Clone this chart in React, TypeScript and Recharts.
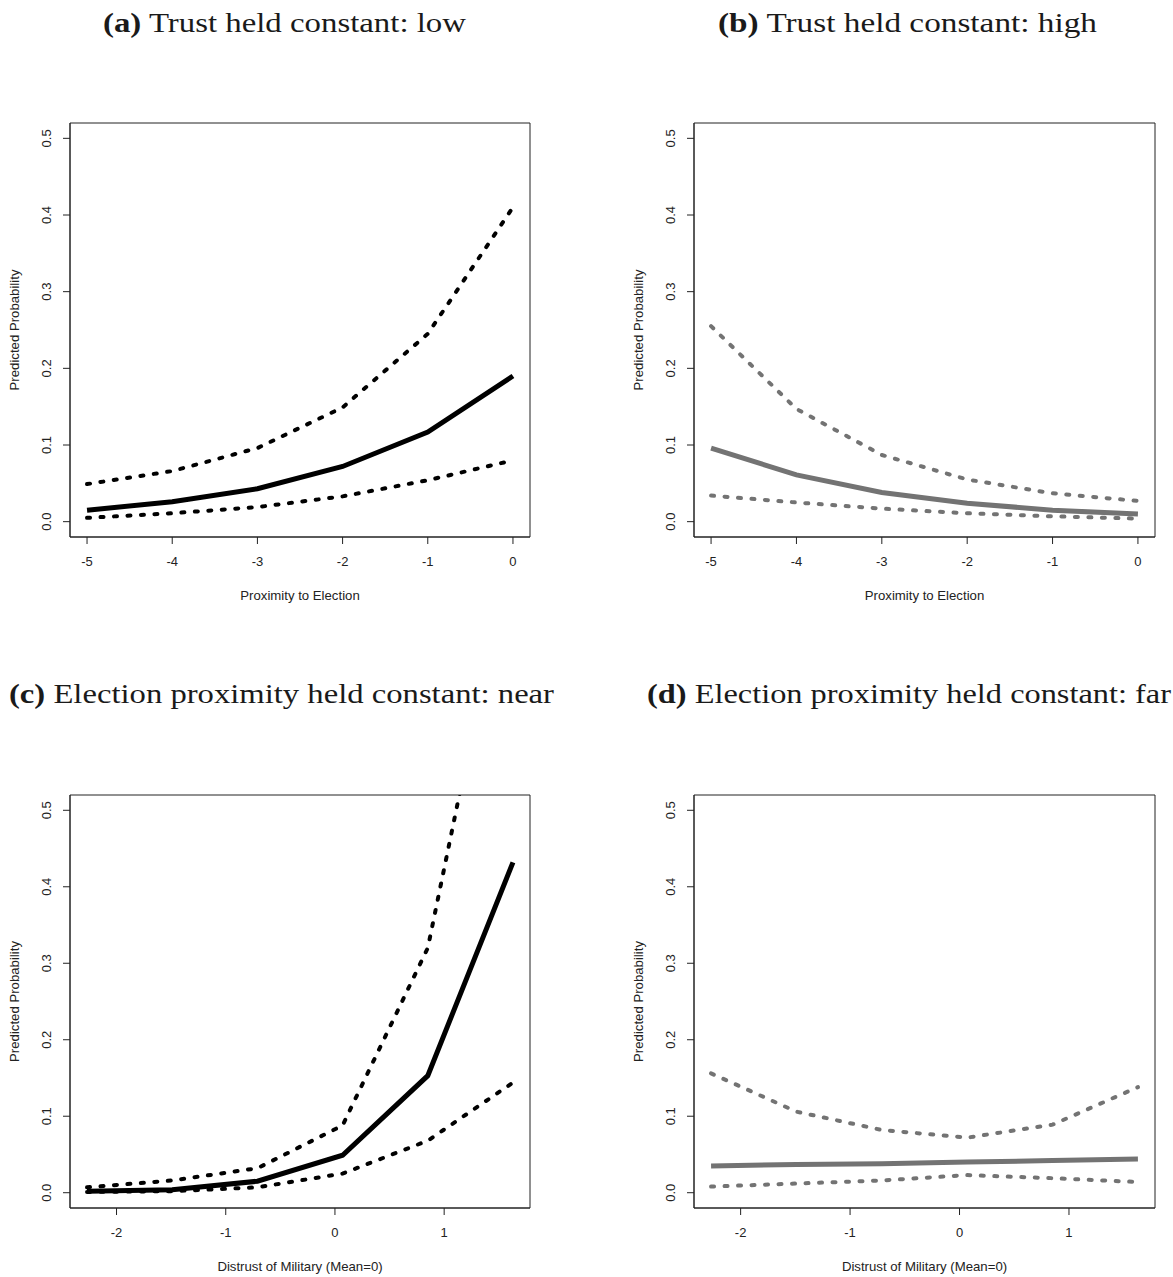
import React from 'react';
import { LineChart, Line, XAxis, YAxis, ReferenceArea } from 'recharts';

// x values
const proximity = [-5, -4, -3, -2, -1, 0];
const distrust = [-2.27, -1.49, -0.71, 0.07, 0.85, 1.63];

// (a) trust low
const lowFit = [0.015, 0.026, 0.043, 0.072, 0.117, 0.19];
const lowUpper = [0.049, 0.066, 0.096, 0.149, 0.245, 0.41];
const lowLower = [0.005, 0.011, 0.019, 0.033, 0.054, 0.08];
// (b) trust high
const highFit = [0.096, 0.061, 0.038, 0.024, 0.015, 0.01];
const highUpper = [0.255, 0.147, 0.087, 0.055, 0.037, 0.027];
const highLower = [0.034, 0.025, 0.017, 0.011, 0.007, 0.004];
// (c) election near
const nearFit = [0.002, 0.004, 0.015, 0.049, 0.153, 0.432];
const nearUpper = [0.007, 0.016, 0.032, 0.088, 0.32, 0.86];
const nearLower = [0.001, 0.002, 0.007, 0.025, 0.068, 0.144];
// (d) election far
const farFit = [0.035, 0.037, 0.038, 0.04, 0.042, 0.044];
const farUpper = [0.156, 0.106, 0.082, 0.072, 0.089, 0.138];
const farLower = [0.008, 0.012, 0.016, 0.023, 0.019, 0.014];

const proximityTicks = [-5, -4, -3, -2, -1, 0];
const distrustTicks = [-2, -1, 0, 1];
const probTicks = [0, 0.1, 0.2, 0.3, 0.4, 0.5];

const sans = '"Liberation Sans", Arial, sans-serif';
const serif = '"Liberation Serif", "Times New Roman", serif';
const ink = '#222';
const grey = '#737373';
const dots = '3 10.5';

const Y_W = 70;
const TOP = 25;
const X_H = 90;

function ProbTick(props: any) {
  const { x, y, payload } = props;
  const bx = x - 12;
  return (
    <text x={bx} y={y} transform={`rotate(-90 ${bx} ${y})`} textAnchor="middle"
      fontSize={13} fill={ink} fontFamily={sans}>
      {payload.value.toFixed(1)}
    </text>
  );
}

function XTitle(props: any) {
  const { viewBox, text } = props;
  const { x, y, width } = viewBox;
  return (
    <text x={x + width / 2} y={y + 63} textAnchor="middle" fontSize={13.2} fill={ink} fontFamily={sans}>
      {text}
    </text>
  );
}

function YTitle(props: any) {
  const { viewBox } = props;
  const { x, y, height } = viewBox;
  const cx = x + 19;
  const cy = y + height / 2;
  return (
    <text x={cx} y={cy} transform={`rotate(-90 ${cx} ${cy})`} textAnchor="middle"
      fontSize={13.2} fill={ink} fontFamily={sans}>
      Predicted Probability
    </text>
  );
}

type PanelProps = {
  left: number; top: number; boxW: number; boxH: number;
  xs: number[]; fit: number[]; upper: number[]; lower: number[];
  xTicks: number[]; xLabel: string; color: string;
};

function Panel({ left, top, boxW, boxH, xs, fit, upper, lower, xTicks, xLabel, color }: PanelProps) {
  const data = xs.map((x, i) => ({ x, fit: fit[i], upper: upper[i], lower: lower[i] }));
  const pad = (Math.max(...xs) - Math.min(...xs)) * 0.04;
  const xDom: [number, number] = [Math.min(...xs) - pad, Math.max(...xs) + pad];
  const yDom: [number, number] = [-0.02, 0.52];
  return (
    <div style={{ position: 'absolute', left: left - Y_W, top: top - TOP }}>
      <LineChart width={boxW + Y_W + 12} height={boxH + TOP + X_H} data={data}
        margin={{ top: TOP, right: 12, bottom: 0, left: 0 }}>
        <XAxis dataKey="x" type="number" domain={xDom} allowDataOverflow ticks={xTicks} interval={0}
          height={X_H} tickSize={7} tickMargin={13} axisLine={{ stroke: ink }} tickLine={{ stroke: ink }}
          tick={{ fontSize: 13, fill: ink, fontFamily: sans }}
          label={<XTitle text={xLabel} />} />
        <YAxis type="number" domain={yDom} allowDataOverflow ticks={probTicks} interval={0}
          width={Y_W} tickSize={7} tickMargin={0} axisLine={{ stroke: ink }} tickLine={{ stroke: ink }}
          tick={<ProbTick />} label={<YTitle />} />
        <ReferenceArea x1={xDom[0]} x2={xDom[1]} y1={yDom[0]} y2={yDom[1]}
          stroke={ink} strokeWidth={1} fill="none" fillOpacity={0} ifOverflow="visible" />
        <Line dataKey="upper" type="linear" stroke={color} strokeWidth={4} strokeDasharray={dots}
          strokeLinecap="round" dot={false} isAnimationActive={false} />
        <Line dataKey="lower" type="linear" stroke={color} strokeWidth={4} strokeDasharray={dots}
          strokeLinecap="round" dot={false} isAnimationActive={false} />
        <Line dataKey="fit" type="linear" stroke={color} strokeWidth={5} dot={false}
          isAnimationActive={false} />
      </LineChart>
    </div>
  );
}

function Title({ x, y, w, tag, text }: { x: number; y: number; w: number; tag: string; text: string }) {
  return (
    <text x={x} y={y} textLength={w} lengthAdjust="spacingAndGlyphs" fontSize={28} fontFamily={serif} fill="#1a1a1a">
      <tspan fontWeight="bold">{tag}</tspan> {text}
    </text>
  );
}

export default function App() {
  return (
    <div style={{ position: 'absolute', left: 0, top: 0, width: 1173, height: 1277, background: '#fff' }}>
      <svg width={1173} height={1277} style={{ position: 'absolute', left: 0, top: 0 }}>
        <Title x={103} y={32} w={363} tag="(a)" text="Trust held constant: low" />
        <Title x={718} y={32} w={379} tag="(b)" text="Trust held constant: high" />
        <Title x={9} y={703} w={545} tag="(c)" text="Election proximity held constant: near" />
        <Title x={647} y={703} w={524} tag="(d)" text="Election proximity held constant: far" />
      </svg>
      <Panel left={70} top={123} boxW={460} boxH={414} xs={proximity} fit={lowFit} upper={lowUpper}
        lower={lowLower} xTicks={proximityTicks} xLabel="Proximity to Election" color="#000" />
      <Panel left={694} top={123} boxW={461} boxH={414} xs={proximity} fit={highFit} upper={highUpper}
        lower={highLower} xTicks={proximityTicks} xLabel="Proximity to Election" color={grey} />
      <Panel left={70} top={795} boxW={460} boxH={413} xs={distrust} fit={nearFit} upper={nearUpper}
        lower={nearLower} xTicks={distrustTicks} xLabel="Distrust of Military (Mean=0)" color="#000" />
      <Panel left={694} top={795} boxW={461} boxH={413} xs={distrust} fit={farFit} upper={farUpper}
        lower={farLower} xTicks={distrustTicks} xLabel="Distrust of Military (Mean=0)" color={grey} />
    </div>
  );
}
